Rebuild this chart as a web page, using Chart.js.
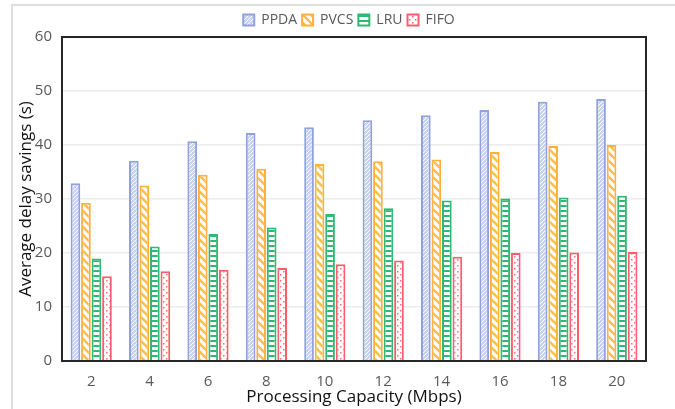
<!DOCTYPE html>
<html>
<head>
<meta charset="utf-8">
<script src="https://cdn.jsdelivr.net/npm/chart.js@4/dist/chart.umd.min.js"></script>
<style>
  html, body { margin: 0; padding: 0; background: #fff; }
  #wrap { width: 675px; height: 409px; position: relative; }
</style>
</head>
<body>
<div id="wrap"><canvas id="chart" width="675" height="409"></canvas></div>
<script>
// Processing capacity (Mbps) on the x axis
const capacities = ['2', '4', '6', '8', '10', '12', '14', '16', '18', '20'];

// Average delay savings (s) per caching strategy
const ppda = [32.9, 37.1, 40.7, 42.2, 43.3, 44.6, 45.5, 46.5, 48.0, 48.5];
const pvcs = [29.3, 32.5, 34.5, 35.6, 36.5, 37.0, 37.3, 38.7, 39.8, 40.0];
const lru  = [19.0, 21.2, 23.5, 24.7, 27.2, 28.3, 29.7, 30.1, 30.3, 30.6];
const fifo = [15.7, 16.6, 16.9, 17.2, 17.9, 18.6, 19.3, 20.0, 20.1, 20.2];

const yTicks = { min: 0, max: 60, step: 10 };

// Small tiles used as bar fills
function tile(size, paint) {
  const c = document.createElement('canvas');
  c.width = size; c.height = size;
  const g = c.getContext('2d');
  paint(g, size);
  return g.createPattern(c, 'repeat');
}

const fillPPDA = tile(4, (g, s) => {
  g.fillStyle = '#c9d3f1';
  g.fillRect(0, 0, s, s);
  g.strokeStyle = '#ffffff';
  g.lineWidth = 1;
  g.beginPath();
  g.moveTo(-1, s + 1); g.lineTo(s + 1, -1);
  g.moveTo(-1, 1); g.lineTo(1, -1);
  g.moveTo(s - 1, s + 1); g.lineTo(s + 1, s - 1);
  g.stroke();
});

const fillPVCS = tile(8, (g, s) => {
  g.fillStyle = '#ffffff';
  g.fillRect(0, 0, s, s);
  g.strokeStyle = '#ffbe4a';
  g.lineWidth = 2.4;
  g.beginPath();
  g.moveTo(-1, -1); g.lineTo(s + 1, s + 1);
  g.moveTo(-1, s - 1); g.lineTo(1, s + 1);
  g.moveTo(s - 1, -1); g.lineTo(s + 1, 1);
  g.stroke();
});

const fillLRU = tile(5, (g, s) => {
  g.fillStyle = '#ffffff';
  g.fillRect(0, 0, s, s);
  g.fillStyle = '#2eb872';
  g.fillRect(0, 0, s, 2);
});

const fillFIFO = tile(6, (g, s) => {
  g.fillStyle = '#ffffff';
  g.fillRect(0, 0, s, s);
  g.fillStyle = '#ff6b7a';
  g.fillRect(1, 1, 1.5, 1.5);
  g.fillRect(4, 4, 1.5, 1.5);
});

// Full dark frame around the plot area plus the light outer frame
const framePlugin = {
  id: 'frames',
  afterLayout(chart) {
    // nudge the legend so it sits over the middle of the plot
    const shift = 26;
    chart.legend.left += shift;
    chart.legend.right += shift;
  },
  beforeDraw(chart) {
    const { ctx } = chart;
    ctx.save();
    ctx.strokeStyle = '#dedede';
    ctx.lineWidth = 2;
    ctx.beginPath();
    ctx.moveTo(12, 409); ctx.lineTo(12, 5); ctx.lineTo(675, 5);
    ctx.stroke();
    ctx.restore();
  },
  afterDatasetsDraw(chart) {
    const { ctx, chartArea: a } = chart;
    ctx.save();
    ctx.strokeStyle = '#262626';
    ctx.lineWidth = 2;
    ctx.strokeRect(a.left, a.top, a.right - a.left, a.bottom - a.top);
    ctx.restore();
  }
};

const fontFamily = '"Open Sans", "Noto Sans", sans-serif';

new Chart(document.getElementById('chart'), {
  type: 'bar',
  data: {
    labels: capacities,
    datasets: [
      { label: 'PPDA', data: ppda, backgroundColor: fillPPDA, borderColor: '#8fa2de', borderWidth: 2 },
      { label: 'PVCS', data: pvcs, backgroundColor: fillPVCS, borderColor: '#ffb13b', borderWidth: 2 },
      { label: 'LRU',  data: lru,  backgroundColor: fillLRU,  borderColor: '#2eb872', borderWidth: 2 },
      { label: 'FIFO', data: fifo, backgroundColor: fillFIFO, borderColor: '#ff5c6e', borderWidth: 2 }
    ]
  },
  options: {
    responsive: false,
    animation: false,
    devicePixelRatio: 1,
    layout: { padding: { left: 0, right: 29, top: 8, bottom: 3 } },
    datasets: {
      bar: { categoryPercentage: 0.72, barPercentage: 0.92 }
    },
    plugins: {
      legend: {
        position: 'top',
        labels: {
          boxWidth: 11,
          boxHeight: 11,
          padding: 5,
          color: '#595959',
          font: { family: fontFamily, size: 14 }
        }
      },
      tooltip: { enabled: false }
    },
    scales: {
      x: {
        afterFit(scale) { scale.height = 45; },
        grid: { display: false, drawTicks: false },
        border: { display: false },
        ticks: { color: '#595959', padding: 13, font: { family: fontFamily, size: 15, lineHeight: 1 } },
        title: {
          display: true,
          text: 'Processing Capacity (Mbps)',
          color: '#111',
          padding: { top: 0, bottom: 0 },
          font: { family: fontFamily, size: 17, lineHeight: 1 }
        }
      },
      y: {
        min: yTicks.min,
        max: yTicks.max,
        afterFit(scale) { scale.width = 62; },
        grid: { color: '#ececec', lineWidth: 1.5, drawTicks: false },
        border: { display: false },
        ticks: { stepSize: yTicks.step, color: '#595959', padding: 10, font: { family: fontFamily, size: 15 } },
        title: {
          display: true,
          text: 'Average delay savings (s)',
          color: '#111',
          padding: { top: 18, bottom: 0 },
          font: { family: fontFamily, size: 17, lineHeight: 1 }
        }
      }
    }
  },
  plugins: [framePlugin]
});
</script>
</body>
</html>
